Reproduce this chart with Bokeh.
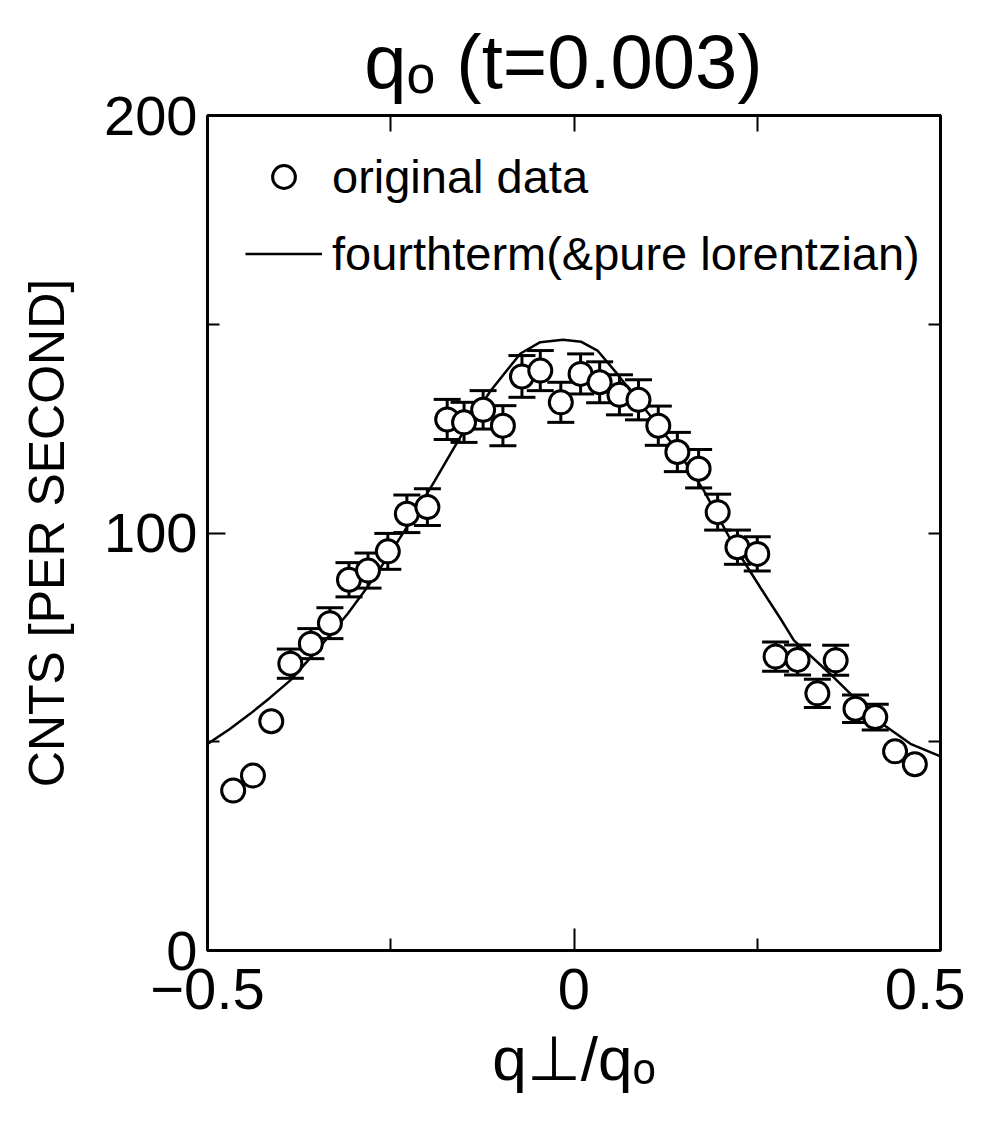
from bokeh.plotting import figure
from bokeh.models import (ColumnDataSource, Whisker, TeeHead, FixedTicker, LinearAxis,
                          Range1d, Legend, LegendItem)
from bokeh.embed import file_html
from bokeh.resources import INLINE

# ---------------- data ----------------
q_ratio = [-0.465, -0.438, -0.413, -0.387, -0.359, -0.333, -0.307, -0.281, -0.254,
           -0.228, -0.200, -0.173, -0.150, -0.124, -0.097, -0.071, -0.046, -0.018,
           0.009, 0.035, 0.062, 0.088, 0.115, 0.141, 0.170, 0.196, 0.223, 0.250,
           0.275, 0.305, 0.332, 0.357, 0.384, 0.411, 0.438, 0.465]
counts = [38.3, 41.9, 54.9, 68.7, 73.5, 78.4, 88.8, 91.0, 95.6,
          104.6, 106.2, 127.2, 126.5, 129.5, 125.7, 137.5, 138.9, 131.3,
          138.1, 136.1, 133.1, 131.9, 125.7, 119.4, 115.4, 105.0, 96.6, 95.0,
          70.4, 69.6, 61.6, 69.5, 57.9, 55.9, 47.7, 44.6]
errors = [0, 0, 0, 3.5, 3.6, 3.7, 4.1, 4.2, 4.3,
          4.5, 4.4, 4.8, 4.8, 4.6, 4.8, 5.0, 4.8, 4.8,
          4.8, 4.9, 4.8, 4.8, 4.7, 4.7, 4.6, 4.3, 4.1, 4.1,
          3.5, 3.6, 3.4, 3.6, 3.3, 3.1, 0, 0]

fit_q = [-0.500, -0.470, -0.441, -0.415, -0.387, -0.350, -0.309, -0.282, -0.255,
         -0.228, -0.190, -0.155, -0.114, -0.073, -0.046, -0.015, 0.010, 0.032,
         0.059, 0.100, 0.141, 0.177, 0.218, 0.254, 0.282, 0.300, 0.354, 0.414,
         0.459, 0.500]
fit_counts = [49.5, 53.0, 56.8, 60.5, 64.7, 72.0, 80.6, 87.0, 94.0,
              101.4, 112.5, 123.0, 134.0, 143.0, 145.7, 146.3, 145.8, 143.7,
              138.1, 129.0, 119.8, 110.2, 97.0, 87.0, 79.4, 74.3, 65.5, 55.1,
              49.5, 46.5]

x_ticks = [-0.5, 0, 0.5]
x_minor = [-0.25, 0.25]
y_ticks = [0, 100, 200]
y_minor = [50, 150]

title_text = "q\u2092  (t=0.003)"
xlabel = "q\u22a5/q\u2092"
ylabel = "CNTS [PER SECOND]"
legend_labels = ["original data", "fourthterm(&pure lorentzian)"]

FONT = "Liberation Sans"

# ---------------- figure ----------------
p = figure(width=965, height=1119, output_backend="svg", toolbar_location=None,
           x_range=Range1d(-0.5, 0.5), y_range=Range1d(0, 200),
           min_border_left=207, min_border_right=25, min_border_top=115,
           min_border_bottom=169, background_fill_color="white",
           border_fill_color="white")
p.grid.visible = False
p.outline_line_color = "black"
p.outline_line_width = 3

def style_axis(ax, ticks, minor, maj_len, min_len):
    ax.ticker = FixedTicker(ticks=ticks, minor_ticks=minor)
    ax.major_tick_in = maj_len
    ax.major_tick_out = 0
    ax.minor_tick_in = min_len
    ax.minor_tick_out = 0
    ax.axis_line_width = 3
    ax.major_tick_line_width = 2
    ax.minor_tick_line_width = 2
    ax.axis_line_color = "black"
    ax.major_tick_line_color = "black"
    ax.minor_tick_line_color = "black"

xa = p.xaxis[0]
style_axis(xa, x_ticks, x_minor, 22, 12)
xa.major_label_text_font = FONT
xa.major_label_text_font_size = "58px"
xa.major_label_text_color = "black"
xa.major_label_standoff = 18
xa.major_label_overrides = {-0.5: "\u22120.5", 0: "0", 0.5: "0.5"}
xa.axis_label = xlabel
xa.axis_label_text_font = FONT
xa.axis_label_text_font_size = "62px"
xa.axis_label_text_font_style = "normal"
xa.axis_label_text_color = "black"
xa.axis_label_standoff = 12

ya = p.yaxis[0]
style_axis(ya, y_ticks, y_minor, 18, 12)
ya.major_label_text_font = FONT
ya.major_label_text_font_size = "56px"
ya.major_label_text_color = "black"
ya.major_label_standoff = 10
ya.axis_label = ylabel
ya.axis_label_text_font = FONT
ya.axis_label_text_font_size = "50px"
ya.axis_label_text_font_style = "normal"
ya.axis_label_text_color = "black"
ya.axis_label_standoff = 26

top = LinearAxis()
style_axis(top, [], [-0.25, 0, 0.25], 0, 16)
p.add_layout(top, "above")

right = LinearAxis()
style_axis(right, [], [50, 100, 150], 0, 12)
p.add_layout(right, "right")

p.title.text = title_text
p.title.align = "center"
p.title.text_font = FONT
p.title.text_font_size = "76px"
p.title.text_font_style = "normal"
p.title.text_color = "black"
p.title.standoff = 24

# ---------------- glyphs ----------------
src_err = ColumnDataSource(data=dict(
    x=[q for q, e in zip(q_ratio, errors) if e > 0],
    upper=[c + e for c, e in zip(counts, errors) if e > 0],
    lower=[c - e for c, e in zip(counts, errors) if e > 0],
))
whisk = Whisker(source=src_err, base="x", upper="upper", lower="lower",
                dimension="height", line_width=3, line_color="black",
                upper_head=TeeHead(size=27, line_width=3, line_color="black"),
                lower_head=TeeHead(size=27, line_width=3, line_color="black"))
p.add_layout(whisk)

fit = p.line(fit_q, fit_counts, line_width=2.5, line_color="black")
pts = p.scatter(q_ratio, counts, marker="circle", size=23, fill_color="white",
                line_color="black", line_width=3)

legend = Legend(items=[LegendItem(label=legend_labels[0], renderers=[pts]),
                       LegendItem(label=legend_labels[1], renderers=[fit])],
                location=(38, 668), label_text_font=FONT,
                label_text_font_size="47px", label_text_color="black",
                glyph_width=77, glyph_height=57, spacing=20, padding=10, margin=0,
                label_standoff=10, border_line_color=None,
                background_fill_alpha=0)
p.add_layout(legend)

open("out.html", "w").write(file_html(p, INLINE))
